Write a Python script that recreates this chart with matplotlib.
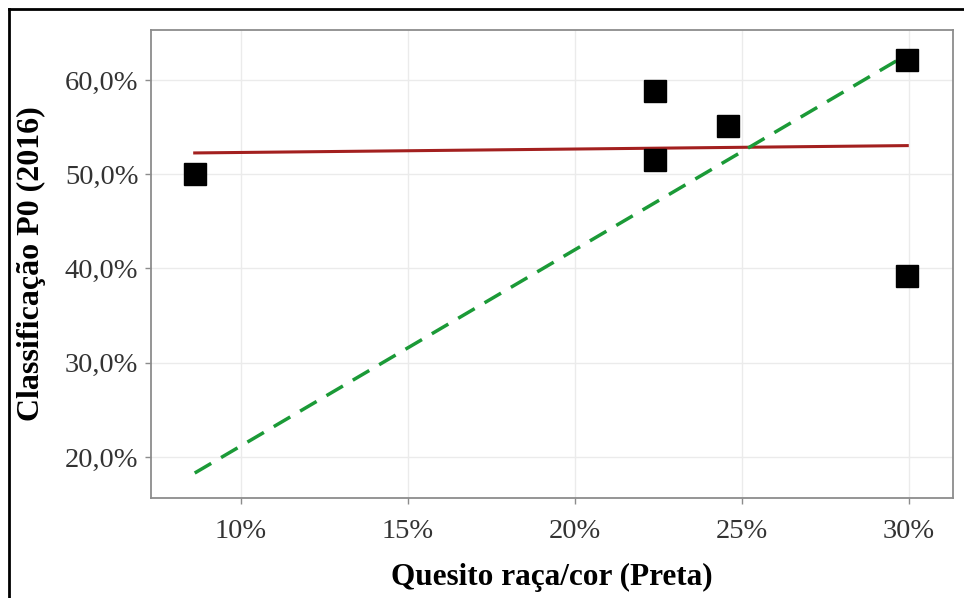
import numpy as np
import matplotlib
matplotlib.use("Agg")
import matplotlib.pyplot as plt
from matplotlib.lines import Line2D
from matplotlib.ticker import FuncFormatter

# data (percent)
preta = np.array([8.62, 22.4, 22.4, 24.58, 29.95, 29.95])
p0_2016 = np.array([50.0, 58.8, 51.5, 55.1, 62.1, 39.2])

# dashed green line, endpoints as read
green_x = np.array([8.62, 29.95])
green_y = np.array([18.3, 62.7])

x_ticks = [10, 15, 20, 25, 30]
y_ticks = [20, 30, 40, 50, 60]

plt.rcParams['font.family'] = ['Liberation Serif', 'DejaVu Serif']

fig = plt.figure(figsize=(9.64, 5.98), dpi=100)
ax = fig.add_axes([0.1566, 0.1672, 0.832, 0.7826])

# ols fit for the red line
b, a = np.polyfit(preta, p0_2016, 1)
fx = np.array([preta.min(), preta.max()])
ax.plot(fx, a + b * fx, color='#a3201f', lw=2.2, zorder=3)
ax.plot(green_x, green_y, color='#1b9a37', lw=2.5, dashes=(5.5, 3.3), zorder=3)
ax.plot(preta, p0_2016, 's', color='black', ms=15.5, zorder=4)

ax.set_xlim(7.31, 31.32)
ax.set_ylim(15.65, 65.3)
ax.set_xticks(x_ticks)
ax.set_yticks(y_ticks)
ax.xaxis.set_major_formatter(FuncFormatter(lambda v, p: f"{v:.0f}%"))
ax.yaxis.set_major_formatter(FuncFormatter(lambda v, p: f"{v:.1f}%".replace('.', ',')))
ax.grid(True, color='#ebebeb', lw=1)
ax.set_axisbelow(True)
for s in ax.spines.values():
    s.set_color('#8c8c8c')
    s.set_linewidth(1.3)
ax.tick_params(length=4, width=1, color='#8c8c8c', labelsize=20.5, labelcolor='#333333')
ax.tick_params(axis='x', pad=11)
ax.tick_params(axis='y', pad=5)

ax.set_xlabel('Quesito raça/cor (Preta)', fontsize=22.5, fontweight='bold', labelpad=14)
ax.set_ylabel('Classificação P0 (2016)', fontsize=23, fontweight='bold', labelpad=14)

# black frame at top and left edges
fig.add_artist(Line2D([9 / 964, 9 / 964], [0, 1 - 9 / 598], color='black', lw=2, transform=fig.transFigure))
fig.add_artist(Line2D([9 / 964, 1], [1 - 9 / 598, 1 - 9 / 598], color='black', lw=2, transform=fig.transFigure))

fig.savefig('out.png', dpi=100)
